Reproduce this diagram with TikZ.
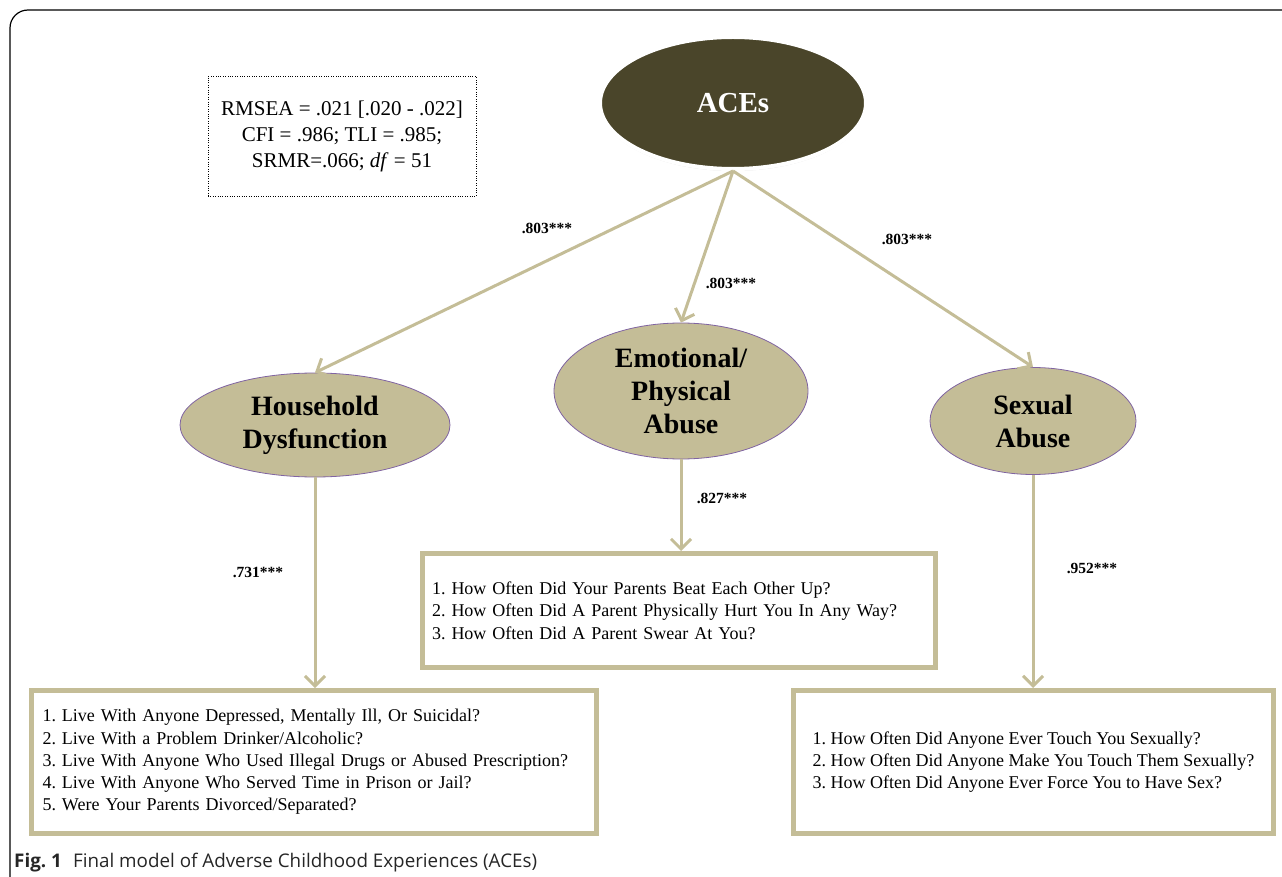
\documentclass[tikz,border=0pt]{standalone}
\usepackage{fontspec}
\setmainfont{Liberation Serif}
\newfontfamily\capfont{Open Sans}
\usetikzlibrary{arrows.meta,shapes.geometric,shadows}
\definecolor{khaki}{HTML}{C4BD97}
\definecolor{darkolive}{HTML}{4A452A}
\definecolor{lilac}{HTML}{8064A2}
\frenchspacing
\tikzset{
  factor/.style={ellipse, fill=khaki, draw=lilac, line width=0.8pt, align=center, inner sep=0pt,
    font=\bfseries\fontsize{28}{33}\selectfont},
  itembox/.style={rectangle, draw=khaki, line width=5pt, fill=white, align=left, inner ysep=0pt,
    font=\fontsize{18}{22.3}\selectfont},
  loading/.style={draw=khaki, line width=3pt, -{Straight Barb[length=10pt,width=20pt,line width=3pt]}},
  coef/.style={font=\bfseries\fontsize{15.5}{17}\selectfont}
}
\begin{document}
\begin{tikzpicture}[x=1pt,y=-1pt]
  \useasboundingbox (0,0) rectangle (1282,877);
  \draw[line width=1.2pt, rounded corners=18pt] (10,877) -- (10,10) -- (1282,10);

  % fit indices
  \node[draw, dotted, minimum width=268pt, minimum height=120pt, align=center,
        font=\fontsize{21}{26}\selectfont] (fit) at (342,136)
        {RMSEA = .021 [.020 - .022]\\CFI = .986; TLI = .985;\\SRMR=.066; \textit{df} = 51};

  % latent factors
  \node[ellipse, fill=darkolive, draw=white, line width=4pt, minimum width=266pt, minimum height=132pt,
        drop shadow={opacity=0.25, shadow xshift=0pt, shadow yshift=-2pt},
        text=white, font=\bfseries\fontsize{29}{33}\selectfont] (aces) at (733,103) {ACEs};
  \node[factor, minimum width=270pt, minimum height=104pt] (hd) at (315,425) {Household\\Dysfunction};
  \node[factor, minimum width=254pt, minimum height=136pt] (ep) at (681,391) {Emotional/\\Physical\\Abuse};
  \node[factor, minimum width=206pt, minimum height=107pt] (sa) at (1033,421) {Sexual\\Abuse};

  % indicator boxes
  \node[itembox, minimum width=565pt, minimum height=143pt, inner xsep=11.5pt, text width=542pt] (hdbox) at (313.5,762)
    {1. Live With Anyone Depressed, Mentally Ill, Or Suicidal?\\
     2. Live With a Problem Drinker/Alcoholic?\\
     3. Live With Anyone Who Used Illegal Drugs or Abused Prescription?\\
     4. Live With Anyone Who Served Time in Prison or Jail?\\
     5. Were Your Parents Divorced/Separated?};
  \node[itembox, minimum width=513pt, minimum height=114pt, inner xsep=9.5pt, text width=494pt] (epbox) at (679,610.5)
    {1. How Often Did Your Parents Beat Each Other Up?\\
     2. How Often Did A Parent Physically Hurt You In Any Way?\\
     3. How Often Did A Parent Swear At You?};
  \node[itembox, minimum width=480pt, minimum height=143pt] (sabox) at (1033.5,762)
    {1. How Often Did Anyone Ever Touch You Sexually?\\
     2. How Often Did Anyone Make You Touch Them Sexually?\\
     3. How Often Did Anyone Ever Force You to Have Sex?};

  % loadings
  \draw[loading] (aces.south) -- (hd.north);
  \draw[loading] (aces.south) -- (ep.north);
  \draw[loading] (aces.south) -- (sa.north);
  \draw[loading] (hd.south) -- (hd.south |- hdbox.north);
  \draw[loading] (ep.south) -- (ep.south |- epbox.north);
  \draw[loading] (sa.south) -- (sa.south |- sabox.north);

  \node[coef] (l1) at (547,228) {.803***};
  \node[coef] (l2) at (731,283) {.803***};
  \node[coef] (l3) at (907,239) {.803***};
  \node[coef] (l4) at (258,572) {.731***};
  \node[coef] (l5) at (722,498) {.827***};
  \node[coef] (l6) at (1092,568) {.952***};

  \node[anchor=base west, inner sep=0pt, text=black!85, font=\capfont\fontsize{18.8}{22}\selectfont] (cap) at (14,867)
    {\textbf{Fig. 1}\hspace{0.6em}Final model of Adverse Childhood Experiences (ACEs)};
\end{tikzpicture}
\end{document}
